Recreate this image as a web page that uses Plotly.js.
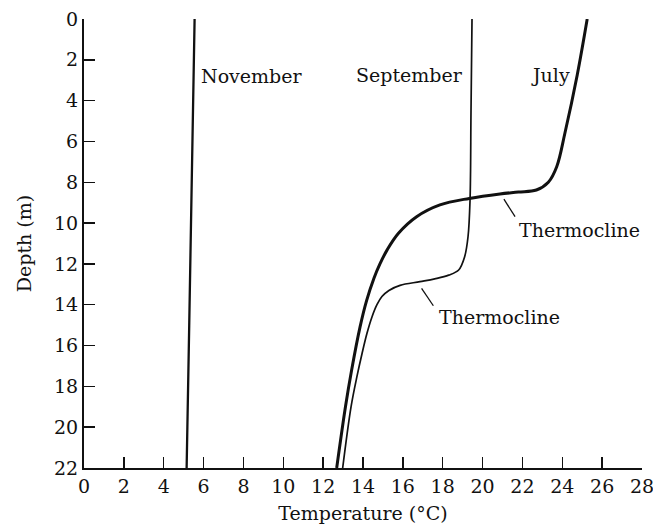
<!DOCTYPE html>
<html>
<head>
<meta charset="utf-8">
<script src="https://cdn.plot.ly/plotly-3.0.1.min.js"></script>
<style>html,body{margin:0;padding:0;background:#fff;}#chart{width:653px;height:527px;}</style>
</head>
<body>
<div id="chart"></div>
<script>
// Temperature (°C) vs depth (m)
var julyTemp  = [25.25, 24.75, 24.13, 23.72, 23.3, 22.7, 21.8, 20.87, 19.33, 17.86, 16.69, 15.78, 15.22, 14.85, 14.55, 14.18, 13.85, 13.43, 13.12, 12.68];
var julyDepth = [0, 2.74, 5.6, 7.24, 8.0, 8.38, 8.48, 8.57, 8.79, 9.11, 9.69, 10.5, 11.3, 12.0, 12.7, 13.8, 15.1, 17.2, 19, 22];
var sepTemp   = [19.47, 19.42, 19.37, 19.27, 19.1, 18.8, 18.3, 17.6, 16.86, 15.86, 15.3, 14.95, 14.7, 14.45, 14.2, 13.95, 13.7, 13.4, 12.98];
var sepDepth  = [0, 4.5, 8.9, 10.67, 11.65, 12.3, 12.55, 12.73, 12.87, 13.05, 13.3, 13.6, 14.0, 14.6, 15.4, 16.4, 17.5, 19, 22];
var novTemp   = [5.55, 5.45, 5.38, 5.28, 5.15];
var novDepth  = [0, 5, 10, 15, 22];
var tickVals  = [0, 2, 4, 6, 8, 10, 12, 14, 16, 18, 20, 22, 24, 26, 28];
var depthTicks = [0, 2, 4, 6, 8, 10, 12, 14, 16, 18, 20, 22];
var monthLabels = ["November", "September", "July"];
var thermoLabel = "Thermocline";

var font = "DejaVu Serif, Liberation Serif, serif";
var fs = 19;
var traces = [
  {x: novTemp, y: novDepth, mode: "lines", line: {color: "#111", width: 2.3}, cliponaxis: false, hoverinfo: "none"},
  {x: sepTemp, y: sepDepth, mode: "lines", line: {color: "#111", width: 1.7, shape: "spline", smoothing: 1}, cliponaxis: false, hoverinfo: "none"},
  {x: julyTemp, y: julyDepth, mode: "lines", line: {color: "#111", width: 3, shape: "spline", smoothing: 1}, cliponaxis: false, hoverinfo: "none"}
];

var layout = {
  width: 653, height: 527,
  margin: {l: 84, r: 11, t: 19, b: 59},
  paper_bgcolor: "#fff", plot_bgcolor: "#fff",
  showlegend: false,
  font: {family: font, size: fs, color: "#111"},
  xaxis: {
    range: [0, 28], tickvals: tickVals, ticks: "inside", ticklen: 11, tickwidth: 1.5, tickcolor: "#111",
    showline: true, linecolor: "#111", linewidth: 2, showgrid: false, zeroline: false,
    ticklabeloverflow: "allow",
    tickfont: {family: font, size: fs, color: "#111"},
    title: {text: "Temperature (°C)", font: {family: font, size: fs, color: "#111"}, standoff: 11}
  },
  yaxis: {
    range: [22, 0], tickvals: depthTicks, ticks: "inside", ticklen: 11, tickwidth: 1.5, tickcolor: "#111",
    showline: true, linecolor: "#111", linewidth: 2, showgrid: false, zeroline: false,
    ticklabeloverflow: "allow",
    tickfont: {family: font, size: fs, color: "#111"},
    title: {text: "Depth (m)", font: {family: font, size: fs, color: "#111"}, standoff: 17}
  },
  annotations: [
    {x: 5.77, y: 2.8, text: monthLabels[0], showarrow: false, xanchor: "left", yanchor: "middle"},
    {x: 19.1, y: 2.74, text: monthLabels[1], showarrow: false, xanchor: "right", yanchor: "middle"},
    {x: 24.5, y: 2.74, text: monthLabels[2], showarrow: false, xanchor: "right", yanchor: "middle"},
    {x: 21.75, y: 10.34, text: thermoLabel, showarrow: false, xanchor: "left", yanchor: "middle"},
    {x: 17.7, y: 14.59, text: thermoLabel, showarrow: false, xanchor: "left", yanchor: "middle"}
  ],
  shapes: [
    {type: "line", x0: 21.07, y0: 8.83, x1: 21.63, y1: 9.68, line: {color: "#111", width: 1.3}},
    {type: "line", x0: 16.94, y0: 13.2, x1: 17.53, y1: 14.05, line: {color: "#111", width: 1.3}}
  ]
};
Plotly.newPlot("chart", traces, layout, {staticPlot: true, displayModeBar: false});
</script>
</body>
</html>
